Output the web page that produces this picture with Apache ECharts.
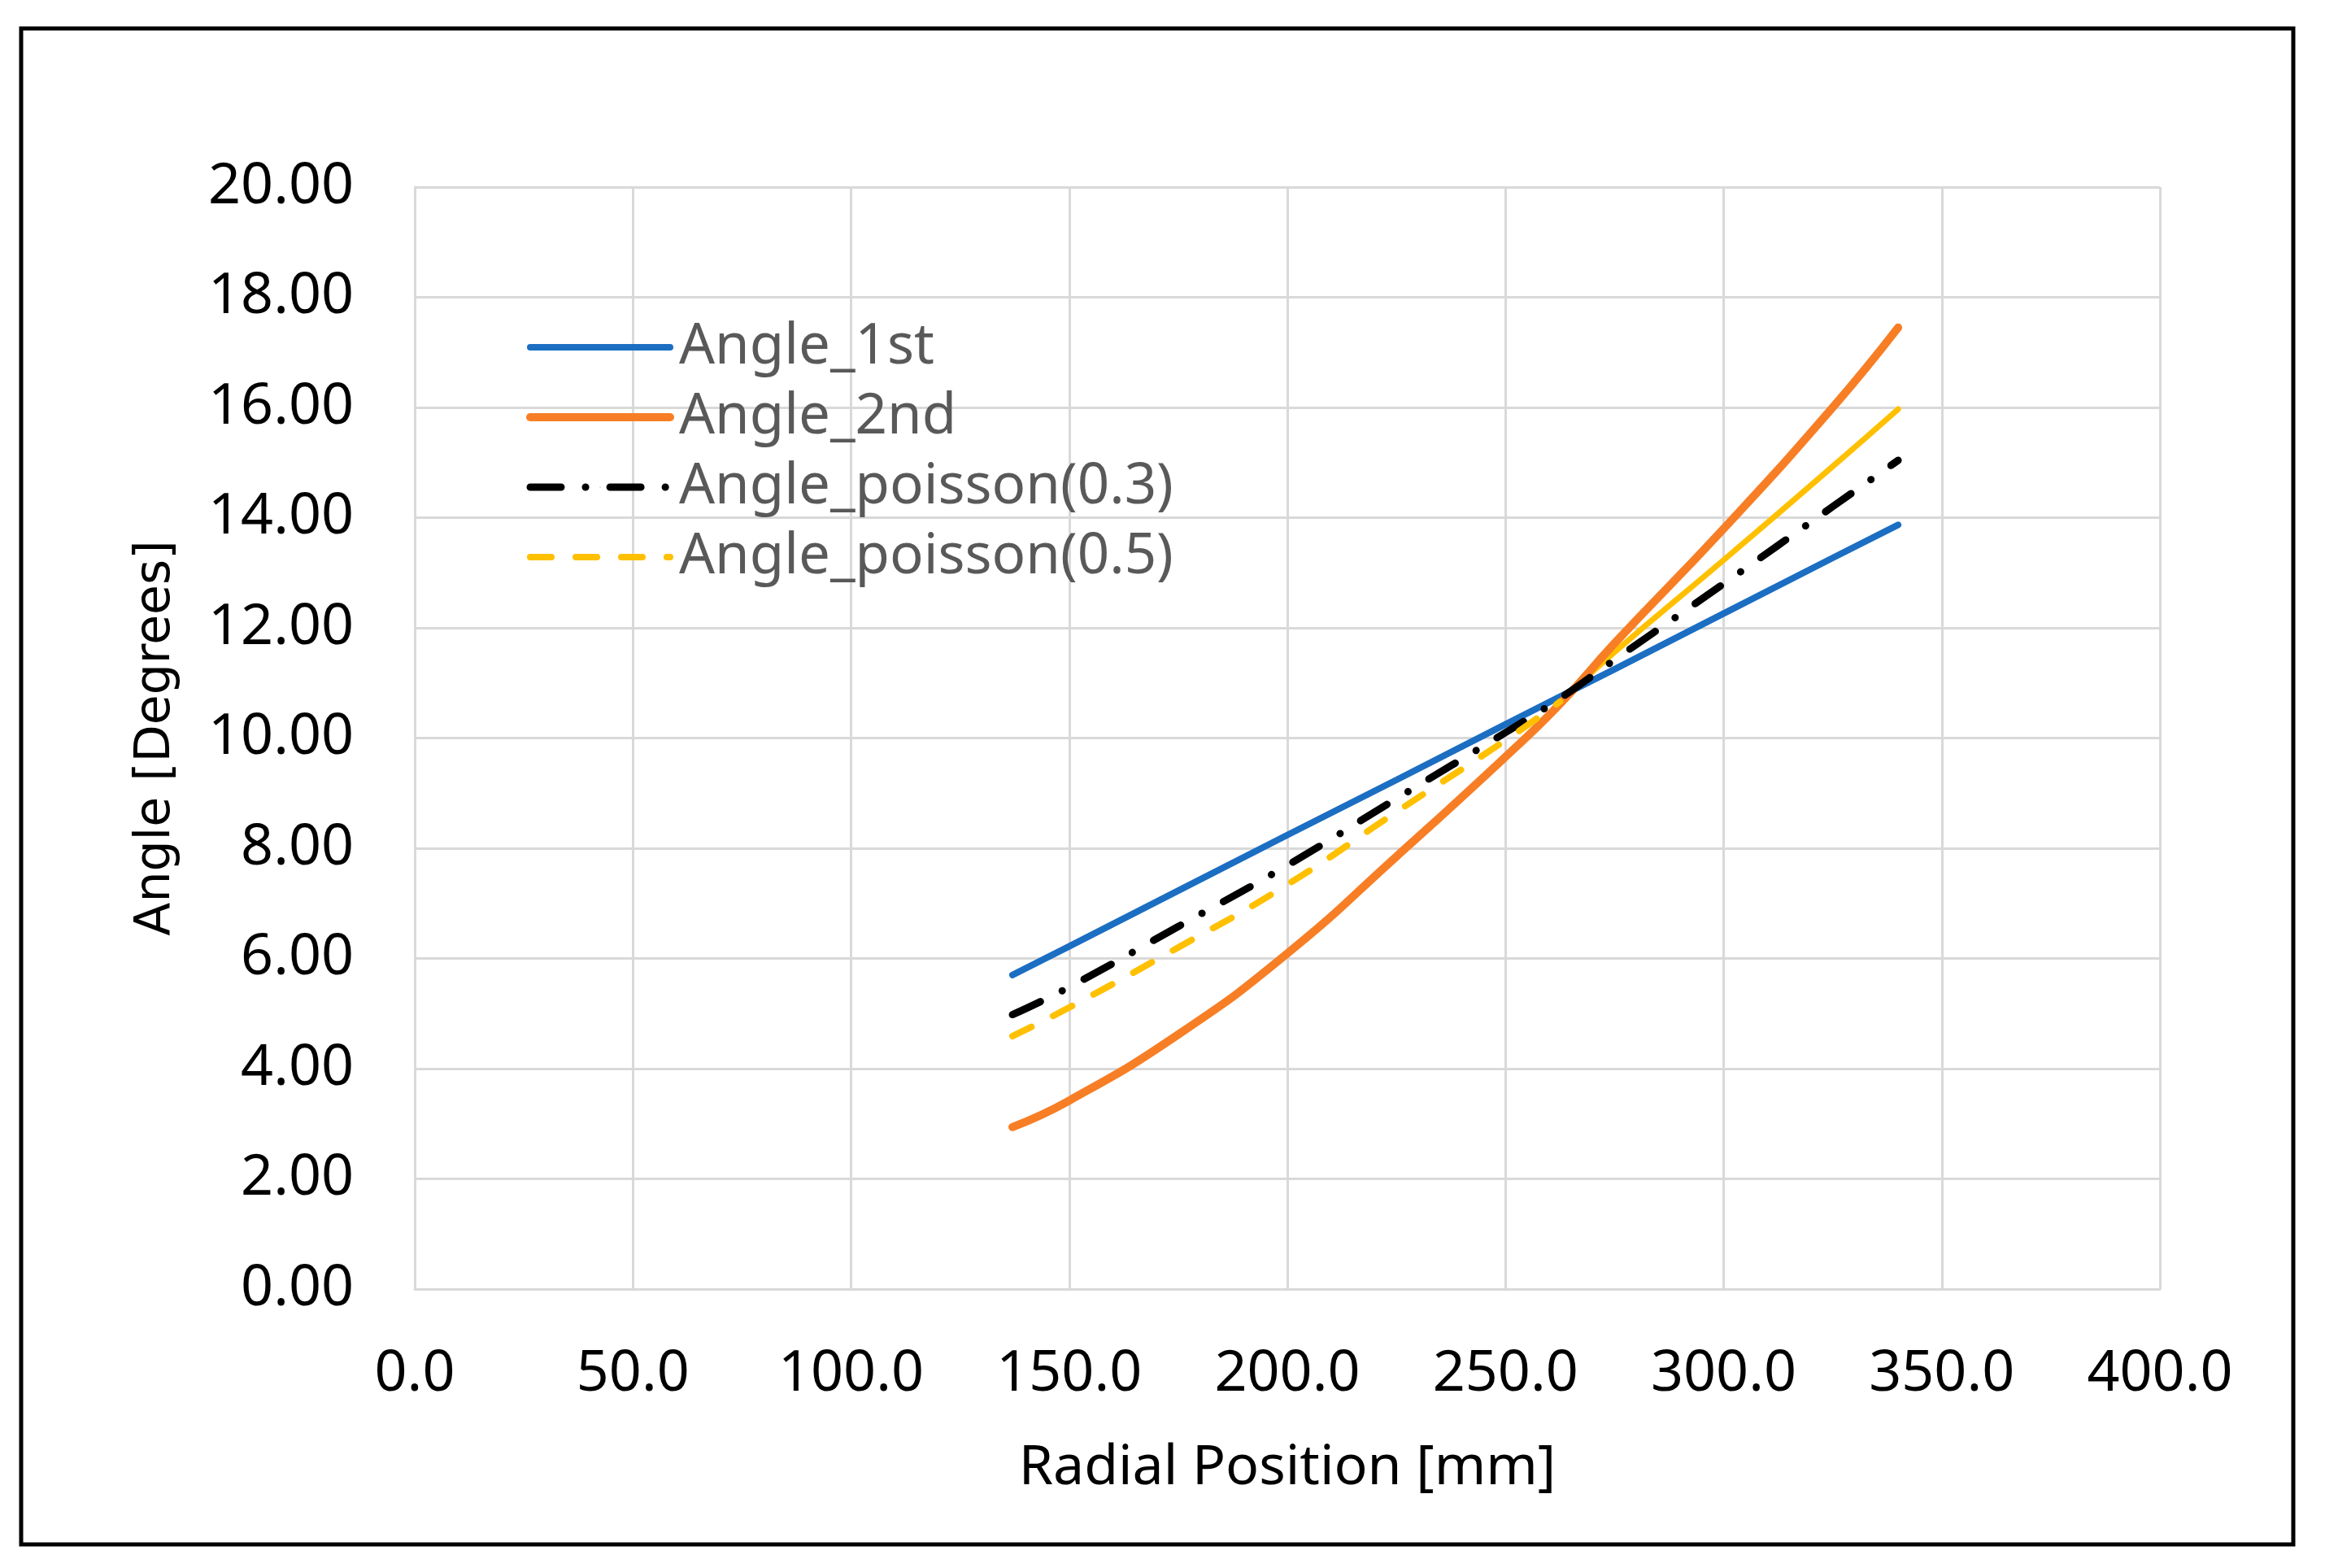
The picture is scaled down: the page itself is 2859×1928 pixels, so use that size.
<!DOCTYPE html>
<html>
<head>
<meta charset="utf-8">
<title>Angle vs Radial Position</title>
<script src="https://cdn.jsdelivr.net/npm/echarts@6.0.0/dist/echarts.min.js"></script>
<style>
  html, body { margin: 0; padding: 0; background: #ffffff; }
  #main { width: 2859px; height: 1928px; }
</style>
</head>
<body>
<div id="main"></div>
<script>
// radial positions [mm]
var radial = [137, 150, 175, 200, 225, 250, 262.5, 275, 300, 325, 340];

// angles [degrees]
var angle1st = [5.70, 6.22, 7.23, 8.24, 9.24, 10.25, 10.75, 11.25, 12.26, 13.27, 13.87];
var angle2nd = [2.94, 3.42, 4.62, 6.09, 7.85, 9.66, 10.62, 11.72, 13.80, 16.00, 17.45];
var poisson03 = [4.98, 5.48, 6.58, 7.69, 8.90, 10.10, 10.72, 11.42, 12.80, 14.20, 15.04];
var poisson05 = [4.59, 5.11, 6.20, 7.34, 8.66, 9.96, 10.66, 11.56, 13.23, 14.93, 15.97];

// the 0.5 curve is dashed up to the crossing point and solid after it
var splitAt = 6;

var xTicks = { min: 0, max: 400, interval: 50 };
var yTicks = { min: 0, max: 20, interval: 2 };

function pairs(xs, ys, from, to) {
  var out = [];
  for (var i = from; i <= to; i++) out.push([xs[i], ys[i]]);
  return out;
}

var last = radial.length - 1;
var font = 'Noto Sans';

var chartDom = document.getElementById('main');
var myChart = echarts.init(chartDom, null, { renderer: 'canvas' });

var option = {
  backgroundColor: '#ffffff',
  animation: false,
  textStyle: { fontFamily: font },
  graphic: [{
    type: 'rect',
    shape: { x: 26, y: 35, width: 2794, height: 1864 },
    style: { fill: 'none', stroke: '#000000', lineWidth: 5 },
    silent: true
  }],
  grid: { left: 510, right: 203, top: 230, bottom: 343 },
  legend: {
    orient: 'vertical',
    left: 647,
    top: 392,
    padding: 0,
    itemWidth: 172,
    itemHeight: 1,
    itemGap: 16,
    lineStyle: { width: 'inherit', type: 'inherit', cap: 'inherit' },
    textStyle: {
      fontFamily: font, fontSize: 69, lineHeight: 70, color: '#595959',
      padding: [0, 0, 0, 6]
    },
    data: ['Angle_1st', 'Angle_2nd', 'Angle_poisson(0.3)', 'Angle_poisson(0.5)']
  },
  xAxis: {
    type: 'value',
    min: xTicks.min,
    max: xTicks.max,
    interval: xTicks.interval,
    name: 'Radial Position [mm]',
    nameLocation: 'middle',
    nameGap: 187,
    nameTextStyle: { fontFamily: font, fontSize: 68, color: '#000000' },
    axisLine: { show: true, lineStyle: { color: '#d9d9d9', width: 3 } },
    axisTick: { show: false },
    axisLabel: {
      margin: 70,
      fontFamily: font,
      fontSize: 70,
      color: '#000000',
      formatter: function (v) { return v.toFixed(1); }
    },
    splitLine: { show: true, lineStyle: { color: '#d9d9d9', width: 3 } }
  },
  yAxis: {
    type: 'value',
    min: yTicks.min,
    max: yTicks.max,
    interval: yTicks.interval,
    name: 'Angle [Degrees]',
    nameLocation: 'middle',
    nameGap: 288,
    nameTextStyle: { fontFamily: 'DejaVu Sans', fontSize: 60, color: '#000000' },
    axisLine: { show: true, lineStyle: { color: '#d9d9d9', width: 3 } },
    axisTick: { show: false },
    axisLabel: {
      margin: 75,
      fontFamily: font,
      fontSize: 70,
      color: '#000000',
      formatter: function (v) { return v.toFixed(2); }
    },
    splitLine: { show: true, lineStyle: { color: '#d9d9d9', width: 3 } }
  },
  series: [
    {
      name: 'Angle_1st',
      type: 'line',
      symbol: 'none',
      data: pairs(radial, angle1st, 0, last),
      lineStyle: { color: '#1b6ec2', width: 8, cap: 'round' },
      itemStyle: { color: '#1b6ec2' },
      z: 2
    },
    {
      name: 'Angle_2nd',
      type: 'line',
      symbol: 'none',
      smooth: 0.5,
      data: pairs(radial, angle2nd, 0, last),
      lineStyle: { color: '#f77e25', width: 10, cap: 'round' },
      itemStyle: { color: '#f77e25' },
      z: 3
    },
    {
      name: 'Angle_poisson(0.3)',
      type: 'line',
      symbol: 'none',
      smooth: 0.5,
      data: pairs(radial, poisson03, 0, last),
      lineStyle: { color: '#000000', width: 9, type: [38, 30, 0.1, 30], cap: 'round' },
      itemStyle: { color: '#000000' },
      z: 4
    },
    {
      name: 'Angle_poisson(0.5)',
      type: 'line',
      symbol: 'none',
      smooth: 0.5,
      data: pairs(radial, poisson05, 0, splitAt),
      lineStyle: { color: '#ffc000', width: 8, type: [26, 30], cap: 'round' },
      itemStyle: { color: '#ffc000' },
      z: 5
    },
    {
      name: 'Angle_poisson(0.5)',
      type: 'line',
      symbol: 'none',
      smooth: 0.5,
      data: pairs(radial, poisson05, splitAt, last),
      lineStyle: { color: '#ffc000', width: 7, cap: 'round' },
      itemStyle: { color: '#ffc000' },
      z: 1
    }
  ]
};

myChart.setOption(option);
</script>
</body>
</html>
